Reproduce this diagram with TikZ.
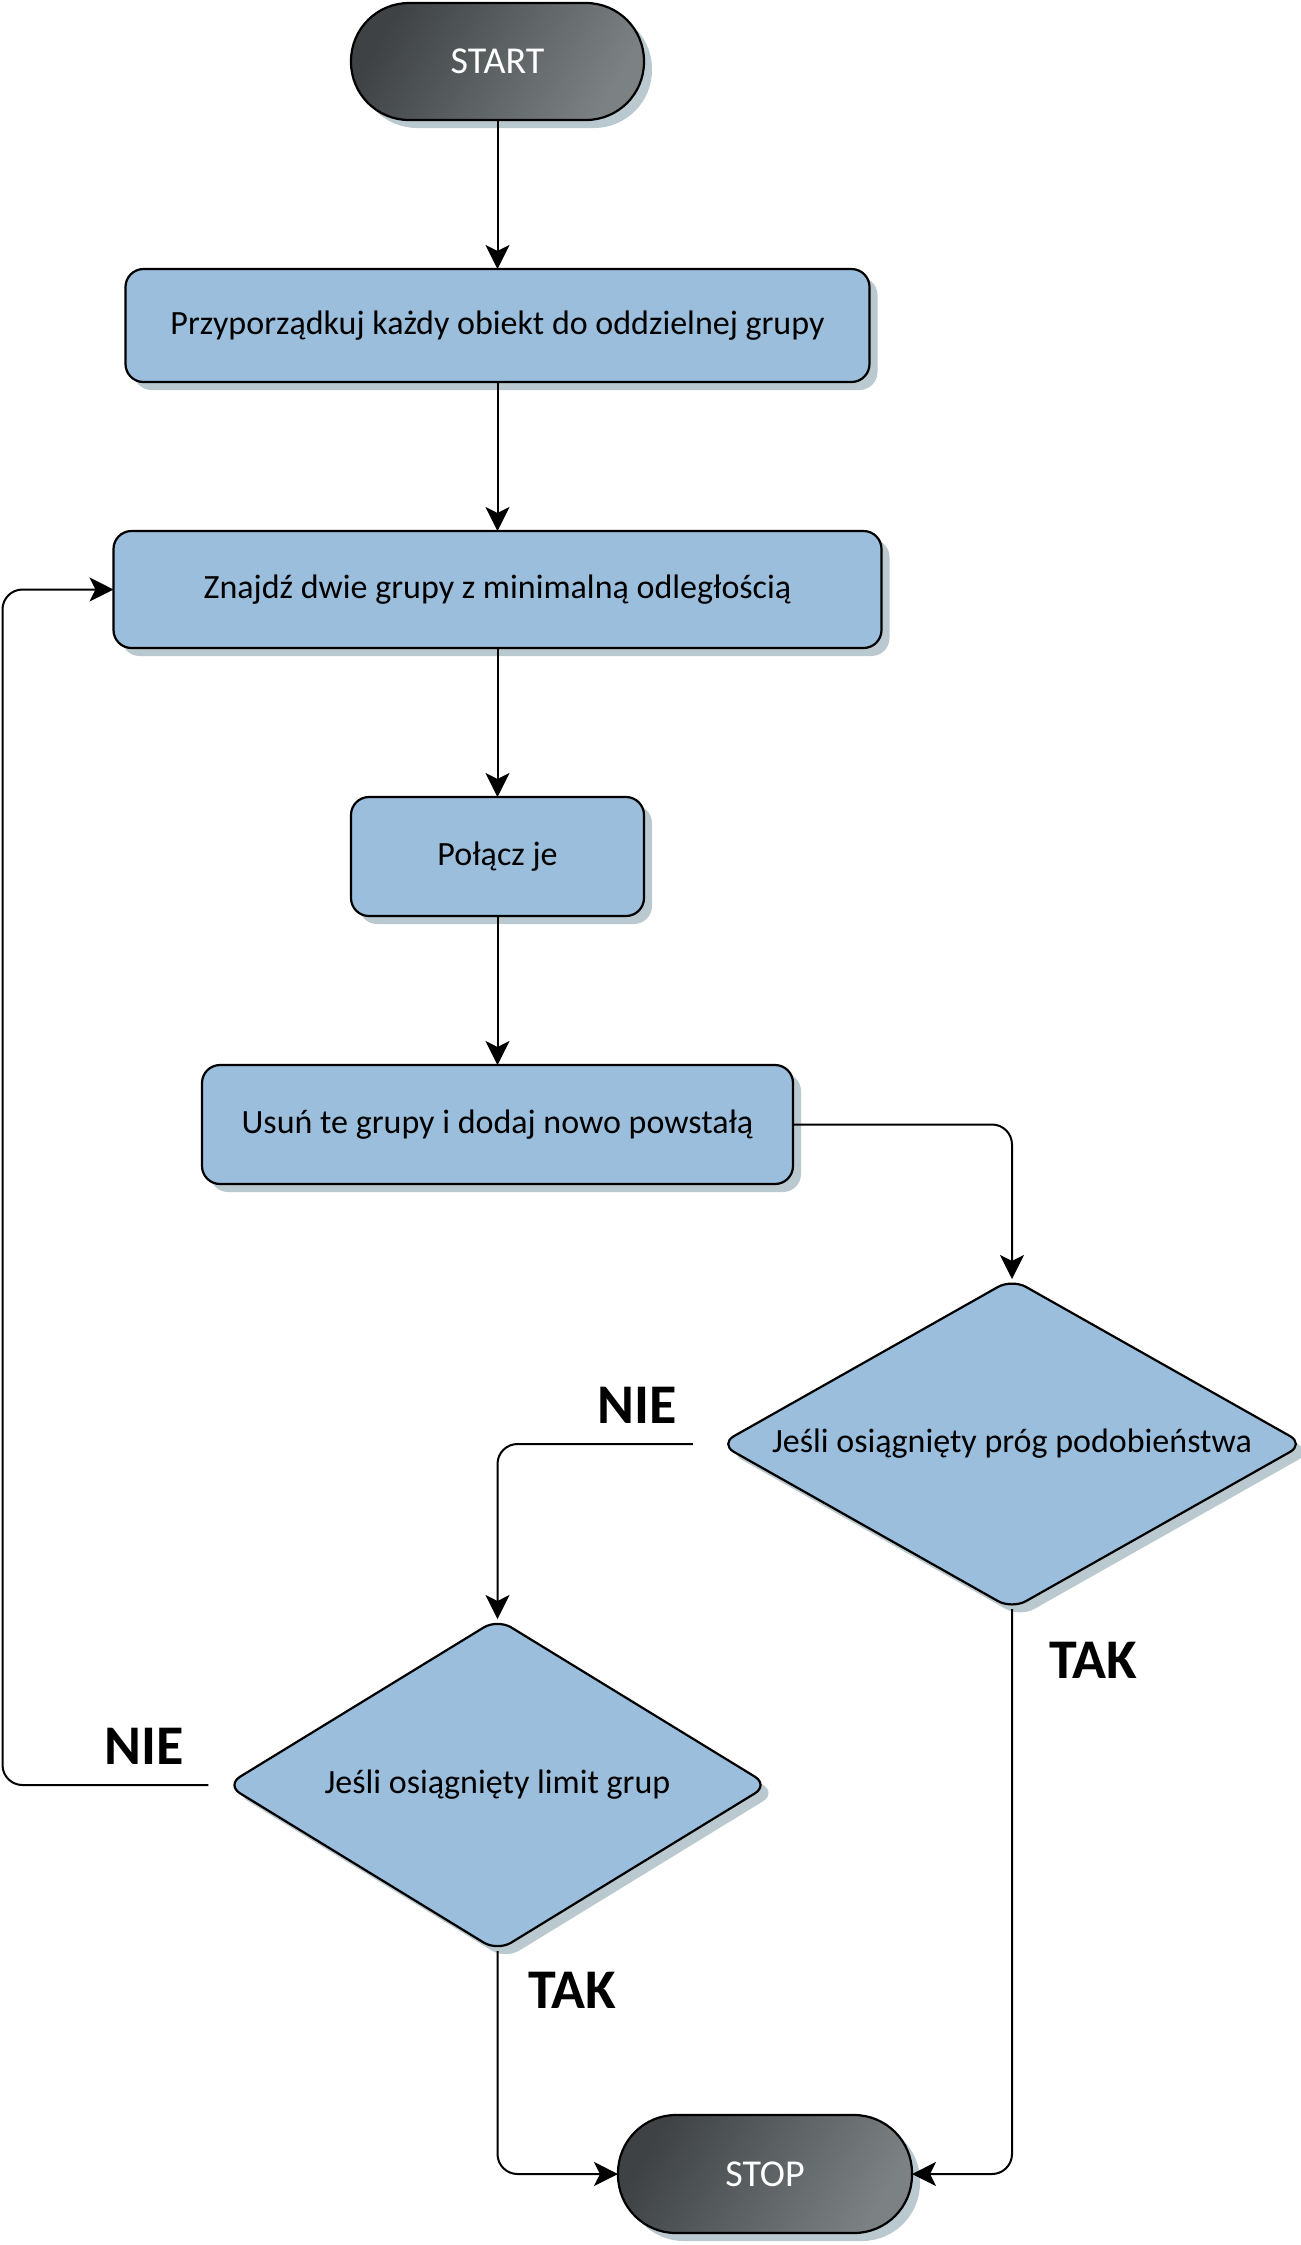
\documentclass[tikz,border=0pt]{standalone}
\usepackage{fontspec}
\setmainfont{Carlito}
\usepackage{tikz}
\usetikzlibrary{shapes.geometric, arrows.meta, positioning, shadows}

\definecolor{boxblue}{RGB}{154,190,220}
\definecolor{boxshadow}{RGB}{186,201,207}
\definecolor{termdark}{RGB}{62,66,69}
\definecolor{termlight}{RGB}{124,129,132}

\begin{document}
\begin{tikzpicture}[
    node distance=74.5pt,
    cast/.style={drop shadow={shadow xshift=4pt, shadow yshift=-4pt, fill=boxshadow, opacity=1}},
    terminal/.style={rectangle, draw, line width=1.1pt, outer sep=0pt, rounded corners=29pt, cast, left color=termdark, right color=termlight, shading angle=60, text=white, minimum width=146.5pt, minimum height=58.5pt, font=\fontsize{19}{22}\selectfont},
    block/.style={rectangle, draw, line width=1.1pt, outer sep=0pt, fill=boxblue, rounded corners=9pt, cast, minimum height=58.5pt, font=\fontsize{17}{20}\selectfont},
    decision/.style={diamond, draw, line width=1.1pt, outer sep=0pt, fill=boxblue, rounded corners=8pt, cast, inner sep=0pt, font=\fontsize{17}{20}\selectfont},
    arrow/.style={-{Stealth[length=12pt, width=12pt, inset=3pt]}, line width=1pt, rounded corners=10pt},
    answer/.style={font=\fontsize{28}{32}\selectfont\bfseries},
]
    \useasboundingbox (0,0) rectangle (650.5pt,-1122.5pt);

    \node[terminal] (start) at (248.75pt,-30.75pt) {START};
    \node[block, below=of start, minimum width=372pt, minimum height=56.5pt] (przypisz) {Przyporządkuj każdy obiekt do oddzielnej grupy};
    \node[block, below=of przypisz, minimum width=384pt] (znajdz) {Znajdź dwie grupy z minimalną odległością};
    \node[block, below=of znajdz, minimum width=146.5pt, minimum height=59.5pt] (polacz) {Połącz je};
    \node[block, below=of polacz, minimum width=295.5pt, minimum height=59.5pt] (usun) {Usuń te grupy i dodaj nowo powstałą};

    \node[decision, aspect=1.77, below=47.5pt of usun, xshift=257.25pt, minimum width=292pt, minimum height=165pt] (prog) {Jeśli osiągnięty próg podobieństwa};
    \node[decision, aspect=1.63, below=217.5pt of usun, minimum width=271pt, minimum height=166pt] (limit) {Jeśli osiągnięty limit grup};
    \node[terminal, below=82pt of limit, xshift=133.75pt, minimum width=147pt, minimum height=59pt] (stop) {STOP};

    \node[answer, above left=6.5pt and 18pt of prog.west] (nie1) {NIE};
    \node[answer, below right=13pt and 15pt of prog.south] (tak1) {TAK};
    \node[answer, above left=6.5pt and 18pt of limit.west] (nie2) {NIE};
    \node[answer, below right=7pt and 12pt of limit.south] (tak2) {TAK};

    \coordinate[left=55.5pt of znajdz.west] (powrot);

    \draw[arrow] (start) -- (przypisz);
    \draw[arrow] (przypisz) -- (znajdz);
    \draw[arrow] (znajdz) -- (polacz);
    \draw[arrow] (polacz) -- (usun);
    \draw[arrow] (usun) -| (prog);
    \draw[arrow, shorten <=13.5pt] (prog) -| (limit);
    \draw[arrow] (prog) |- (stop);
    \draw[arrow, shorten <=9pt] (limit) -| (powrot) -- (znajdz);
    \draw[arrow] (limit) |- (stop);
\end{tikzpicture}
\end{document}
